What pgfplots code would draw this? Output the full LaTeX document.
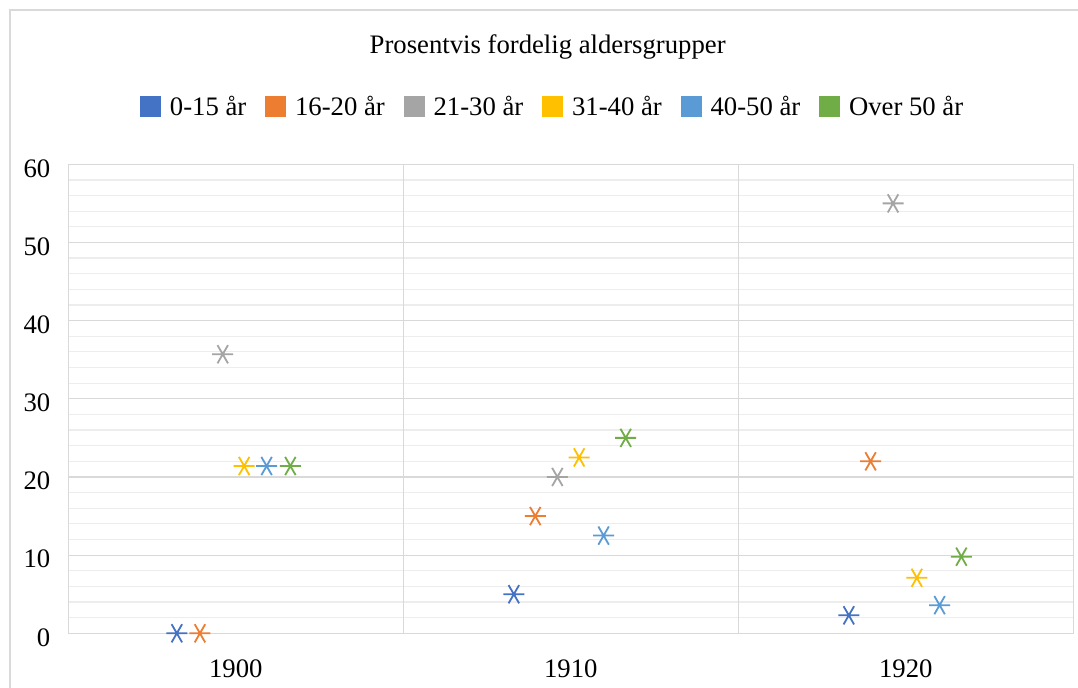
\documentclass[border=0pt]{standalone}
\usepackage{pgfplots}
\pgfplotsset{compat=1.18}
\usepackage{fontspec}
\setmainfont{Liberation Serif}
\definecolor{c1}{HTML}{4472C4}
\definecolor{c2}{HTML}{ED7D31}
\definecolor{c3}{HTML}{A5A5A5}
\definecolor{c4}{HTML}{FFC000}
\definecolor{c5}{HTML}{5B9BD5}
\definecolor{c6}{HTML}{70AD47}
\newcommand{\cf}{\fontsize{26.7bp}{32bp}\selectfont}
\begin{document}
\begin{tikzpicture}
\useasboundingbox (0,0) rectangle (1078bp,688bp);
\fill[white] (0,0) rectangle (1078bp,688bp);
\draw[color=black!15, line width=1.2bp] (10bp,-10bp) -- (10bp,678bp) -- (1100bp,678bp);
\begin{axis}[
 at={(68.3bp,54.7bp)}, anchor=south west,
 scale only axis, width=1005bp, height=469bp,
 clip=false,
 xmin=0.5, xmax=3.5, ymin=0, ymax=60,
 xtick={1,2,3}, xticklabels={1900,1910,1920},
 ytick={0,10,...,60},
 minor y tick num=4,
 ymajorgrids, yminorgrids,
 major grid style={color=black!15, line width=1.2bp},
 minor grid style={color=black!7, line width=1.2bp},
 extra x ticks={1.5,2.5}, extra x tick labels={},
 extra x tick style={grid=major},
 major tick length=0pt, minor tick length=0pt,
 axis line style={draw=black!15, line width=1.2bp},
 tick label style={font=\cf},
 /pgf/number format/assume math mode=true,
 yticklabel style={xshift=-14.5bp, yshift=-4bp},
 xticklabel style={yshift=-23bp},
 title={Prosentvis fordelig aldersgrupper},
 title style={font=\cf, at={(0.477,1.237)}, anchor=center},
 legend style={font=\cf, at={(0.482,1.124)}, anchor=center, draw=none, fill=none,
   legend columns=6,
   /tikz/every odd column/.append style={column sep=7bp},
   /tikz/every even column/.append style={column sep=17bp}},
 every axis plot/.append style={only marks, mark=asterisk, mark size=10.5bp, line width=1.8bp, mark options={rotate=90}},
]
\addlegendimage{legend image code/.code={\fill[c1] (0bp,-9.5bp) rectangle (19bp,9.5bp);}}
\addlegendentry{0-15 år}
\addlegendimage{legend image code/.code={\fill[c2] (0bp,-9.5bp) rectangle (19bp,9.5bp);}}
\addlegendentry{16-20 år}
\addlegendimage{legend image code/.code={\fill[c3] (0bp,-9.5bp) rectangle (19bp,9.5bp);}}
\addlegendentry{21-30 år}
\addlegendimage{legend image code/.code={\fill[c4] (0bp,-9.5bp) rectangle (19bp,9.5bp);}}
\addlegendentry{31-40 år}
\addlegendimage{legend image code/.code={\fill[c5] (0bp,-9.5bp) rectangle (19bp,9.5bp);}}
\addlegendentry{40-50 år}
\addlegendimage{legend image code/.code={\fill[c6] (0bp,-9.5bp) rectangle (19bp,9.5bp);}}
\addlegendentry{Over 50 år}
\addplot[color=c1, forget plot] coordinates {(0.824,0) (1.830,5) (2.830,2.3)};
\addplot[color=c2, forget plot] coordinates {(0.893,0) (1.894,15) (2.895,22.0)};
\addplot[color=c3, forget plot] coordinates {(0.961,35.7) (1.960,20) (2.962,55.0)};
\addplot[color=c4, forget plot] coordinates {(1.025,21.4) (2.025,22.5) (3.033,7.1)};
\addplot[color=c5, forget plot] coordinates {(1.092,21.4) (2.098,12.5) (3.101,3.6)};
\addplot[color=c6, forget plot] coordinates {(1.163,21.4) (2.164,25) (3.166,9.8)};
\end{axis}
\end{tikzpicture}
\end{document}
